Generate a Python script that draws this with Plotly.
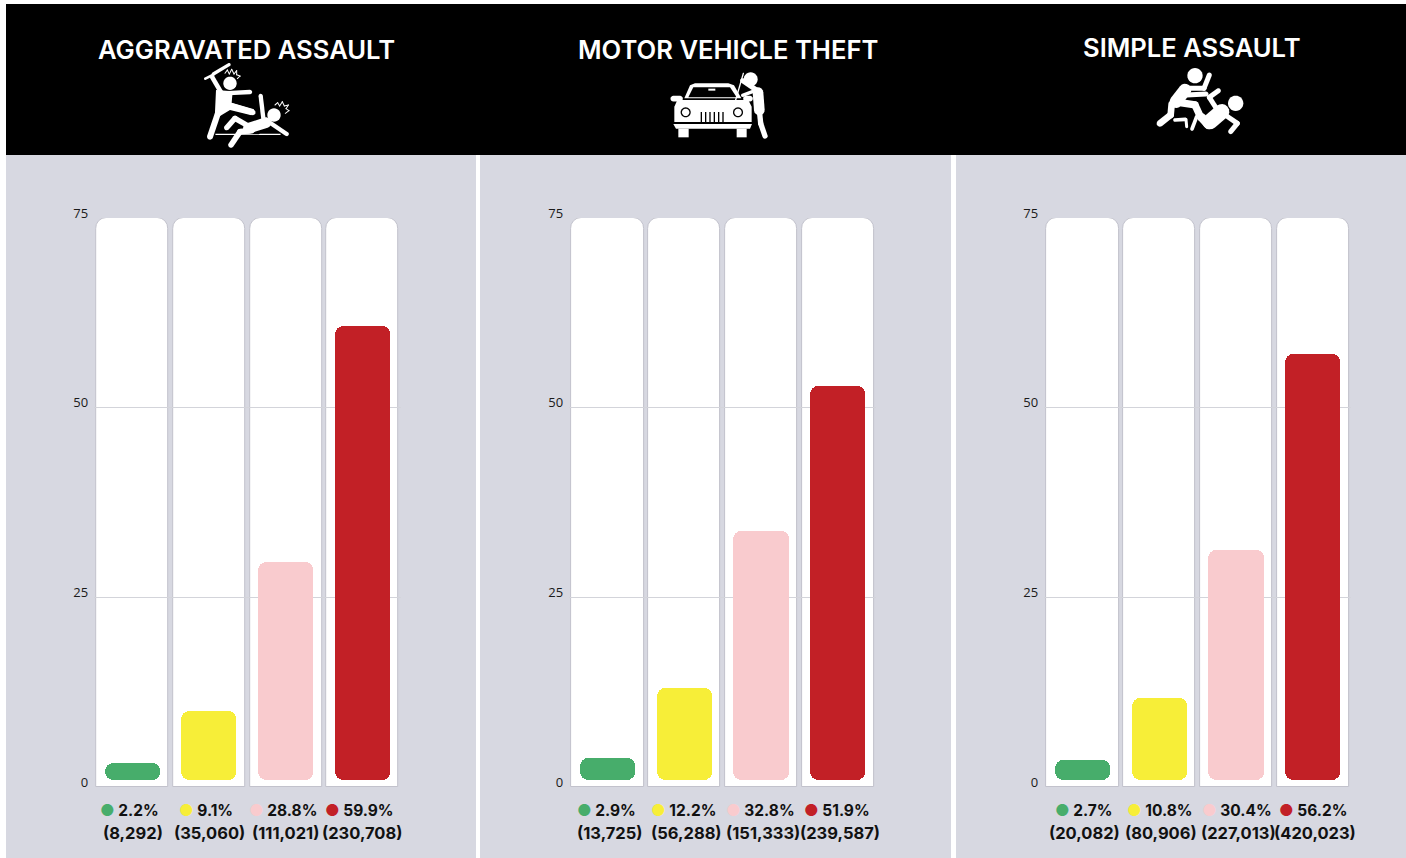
import math
import plotly.graph_objects as go

W, H = 1406, 858

# ---------- data ----------
titles = ["AGGRAVATED ASSAULT", "MOTOR VEHICLE THEFT", "SIMPLE ASSAULT"]
groups = ["Green", "Yellow", "Pink", "Red"]
colors = ["#47ad6b", "#f7ee38", "#f9cbce", "#c22026"]
pct_aggravated = [2.2, 9.1, 28.8, 59.9]
pct_motor = [2.9, 12.2, 32.8, 51.9]
pct_simple = [2.7, 10.8, 30.4, 56.2]
cnt_aggravated = [8292, 35060, 111021, 230708]
cnt_motor = [13725, 56288, 151333, 239587]
cnt_simple = [20082, 80906, 227013, 420023]
tick_vals = [0, 25, 50, 75]
axis_max = 75
bar_inset = 0.9

pcts = [pct_aggravated, pct_motor, pct_simple]
cnts = [cnt_aggravated, cnt_motor, cnt_simple]

# ---------- layout metrics (px) ----------
BLACK = "#000000"
PANEL = "#d7d8e1"
panels_px = [(6, 476), (480, 951), (956, 1406)]
domains_px = [(94.2, 400.6), (569.1, 876.3), (1044.1, 1351.3)]
title_px = [(246, 49), (728, 49), (1192, 48)]
pct_shift = [-3, -1, 1]
cnt_shift = [0, 2, 2]
y0_px, y75_px = 787, 218


def px(x):
    return x / W


def py(y):
    return 1 - y / H


def rect(x0, y0, x1, y1, color, layer="below"):
    return dict(type="rect", xref="paper", yref="paper", x0=px(x0), x1=px(x1),
                y0=py(y1), y1=py(y0), fillcolor=color, line=dict(width=0), layer=layer)


shapes = [rect(6, 4, W, 155, BLACK)]
for a, b in panels_px:
    shapes.append(rect(a, 155, b, H, PANEL))


# ---------- pictogram helpers (drawn on paper, decoration only) ----------
def poly_shape(points, color="#ffffff"):
    d = "M" + " L".join(f"{px(x):.5f},{py(y):.5f}" for x, y in points) + " Z"
    return dict(type="path", xref="paper", yref="paper", path=d, fillcolor=color,
                line=dict(width=0), layer="above")


class Icon:
    def __init__(self, ox, oy, s=3.0):
        self.ox, self.oy, self.s = ox, oy, s

    def p(self, x, y):
        return (self.ox + x / self.s, self.oy + y / self.s)

    def circle(self, x, y, r, color="#ffffff"):
        cx, cy = self.p(x, y)
        r = r / self.s
        pts = [(cx + r * math.cos(t * math.pi / 14), cy + r * math.sin(t * math.pi / 14)) for t in range(28)]
        shapes.append(poly_shape(pts, color))

    def limb(self, pts, w, color="#ffffff"):
        for (x1, y1), (x2, y2) in zip(pts, pts[1:]):
            a = self.p(x1, y1)
            b = self.p(x2, y2)
            ang = math.atan2(b[1] - a[1], b[0] - a[0])
            r = w / self.s / 2
            out = []
            for k in range(9):
                t = ang + math.pi / 2 + k * math.pi / 8
                out.append((a[0] + r * math.cos(t), a[1] + r * math.sin(t)))
            for k in range(9):
                t = ang - math.pi / 2 + k * math.pi / 8
                out.append((b[0] + r * math.cos(t), b[1] + r * math.sin(t)))
            shapes.append(poly_shape(out, color))

    def poly(self, pts, color="#ffffff"):
        shapes.append(poly_shape([self.p(x, y) for x, y in pts], color))


# aggravated assault icon
i1 = Icon(180, 60)
i1.circle(150, 70, 20)
i1.limb([(125, 100), (97, 52)], 14)
i1.limb([(76, 56), (100, 44)], 8)
i1.limb([(100, 42), (147, 14)], 10)
i1.limb([(130, 100), (210, 96)], 13)
i1.poly([(108, 90), (158, 94), (155, 128), (222, 148), (214, 166), (150, 150), (104, 178)])
i1.limb([(124, 130), (90, 230)], 18)
i1.limb([(155, 138), (218, 157)], 17)
i1.limb([(108, 223), (300, 223)], 4)
i1.limb([(170, 218), (235, 218)], 10, BLACK)
i1.circle(282, 165, 20)
i1.limb([(242, 108), (250, 175)], 13)
i1.limb([(258, 180), (320, 222)], 13)
i1.limb([(258, 188), (205, 205)], 32)
i1.limb([(205, 198), (165, 175), (140, 203)], 16)
i1.limb([(215, 212), (180, 215), (153, 255)], 17)
spark1 = [(135, 40), (142, 30), (148, 42), (155, 28), (162, 42), (170, 32), (170, 44), (180, 48), (172, 56)]
spark2 = [(285, 135), (293, 128), (299, 138), (307, 125), (313, 138), (325, 135), (318, 146), (327, 152), (316, 160)]
i1.limb(spark1, 3)
i1.limb(spark2, 3)

# motor vehicle theft icon
i2 = Icon(640, 60)
i2.poly([(133, 115), (150, 76), (165, 70), (265, 70), (282, 76), (304, 115)])
i2.poly([(145, 112), (160, 82), (270, 82), (290, 112)], BLACK)
i2.poly([(205, 86), (226, 86), (226, 92), (205, 92)])
i2.limb([(100, 116), (120, 116)], 17)
i2.limb([(318, 116), (330, 116)], 17)
i2.poly([(112, 120), (325, 120), (335, 140), (335, 186), (103, 186), (103, 140)])
i2.poly([(100, 192), (336, 192), (330, 206), (108, 206)])
i2.poly([(115, 206), (146, 206), (146, 232), (115, 232)])
i2.poly([(290, 206), (320, 206), (320, 232), (290, 232)])
i2.circle(137, 157, 15, BLACK)
i2.circle(137, 157, 11)
i2.circle(294, 157, 15, BLACK)
i2.circle(294, 157, 11)
for bx in [184, 197, 210, 223, 236, 249]:
    i2.poly([(bx - 2, 156), (bx + 2, 156), (bx + 2, 187), (bx - 2, 187)], BLACK)
i2.limb([(310, 40), (287, 120)], 4)
i2.circle(332, 58, 21)
i2.limb([(354, 98), (358, 150)], 32)
i2.limb([(308, 62), (352, 92)], 15)
i2.limb([(345, 92), (308, 106)], 10)
i2.limb([(358, 150), (362, 190), (375, 228)], 16)

# simple assault icon
i3 = Icon(1130, 60)
i3.circle(195, 47, 23)
i3.limb([(165, 90), (138, 125)], 38)
i3.limb([(170, 85), (222, 85), (238, 45)], 15)
i3.limb([(170, 105), (228, 102)], 15)
i3.limb([(125, 132), (122, 165), (90, 190)], 20)
i3.limb([(150, 128), (195, 135), (212, 172)], 22)
i3.limb([(135, 180), (165, 178)], 11)
i3.limb([(168, 178), (170, 200)], 9)
i3.limb([(200, 170), (186, 207)], 11)
i3.circle(317, 130, 23)
i3.limb([(275, 155), (240, 185)], 46)
i3.limb([(265, 92), (238, 112), (262, 150)], 15)
i3.limb([(290, 168), (322, 190), (302, 215)], 15)
i3.limb([(236, 195), (215, 172)], 26)


# ---------- figure ----------
fig = go.Figure()
layout_axes = {}
annotations = []
for i in range(3):
    xa, xb = f"x{2*i+1}", f"x{2*i+2}"
    ya, yb = f"y{2*i+1}", f"y{2*i+2}"
    dom_x = [px(domains_px[i][0]), px(domains_px[i][1])]
    dom_y = [py(y0_px), py(y75_px)]

    # white tracks
    fig.add_trace(go.Bar(x=groups, y=[axis_max] * 4, width=0.94, xaxis="x" if i == 0 else xa,
                         yaxis="y" if i == 0 else ya,
                         marker=dict(color="#ffffff", cornerradius=11, line=dict(color="#c2c2cc", width=1)),
                         hoverinfo="skip", showlegend=False))
    # coloured values
    fig.add_trace(go.Bar(x=groups, y=pcts[i], base=bar_inset, width=0.72, xaxis=xb, yaxis=yb,
                         marker=dict(color=colors, cornerradius=8, line=dict(width=0)),
                         showlegend=False))

    name_a_x = "xaxis" if i == 0 else f"xaxis{2*i+1}"
    name_a_y = "yaxis" if i == 0 else f"yaxis{2*i+1}"
    name_b_x = f"xaxis{2*i+2}"
    name_b_y = f"yaxis{2*i+2}"
    for nm_x, nm_y, partner_x, partner_y, front in [
        (name_a_x, name_a_y, "y" if i == 0 else ya, "x" if i == 0 else xa, False),
        (name_b_x, name_b_y, yb, xb, True),
    ]:
        layout_axes[nm_x] = dict(domain=dom_x, anchor=partner_x, type="category",
                                 categoryorder="array", categoryarray=groups, range=[-0.5, 3.5],
                                 visible=False, showgrid=False, zeroline=False)
        layout_axes[nm_y] = dict(domain=dom_y, anchor=partner_y, range=[0, axis_max],
                                 zeroline=False, showline=False, ticks="",
                                 showgrid=front, gridcolor="#d3d4da", gridwidth=1,
                                 tickvals=tick_vals if front else [],
                                 showticklabels=front,
                                 ticklabelstandoff=5, ticklabelshift=-5,
                                 tickfont=dict(family="Open Sans", size=13, color="#1a1a1a"))

    # group labels under each bar
    for g, c, p, n in zip(groups, colors, pcts[i], cnts[i]):
        annotations.append(dict(
            x=g, xref=xb, y=py(810), yref="paper", yanchor="middle", xanchor="center", showarrow=False,
            xshift=pct_shift[i],
            text=f"<span style='color:{c};font-size:16px'>●</span> {p:.1f}%",
            font=dict(family="Inter", size=15.5, weight=700, color="#111111")))
        annotations.append(dict(
            x=g, xref=xb, y=py(833), yref="paper", yanchor="middle", xanchor="center", showarrow=False,
            xshift=cnt_shift[i],
            text=f"({n:,})",
            font=dict(family="Inter", size=16.5, weight=700, color="#111111")))

    annotations.append(dict(
        x=px(title_px[i][0]), y=py(title_px[i][1]), xref="paper", yref="paper", showarrow=False,
        xanchor="center", yanchor="middle", text=titles[i],
        font=dict(family="Inter", size=25.6, weight=600, color="#ffffff")))

fig.update_layout(
    width=W, height=H, autosize=False,
    margin=dict(l=0, r=0, t=0, b=0, autoexpand=False),
    paper_bgcolor="#ffffff", plot_bgcolor="rgba(0,0,0,0)",
    shapes=shapes, annotations=annotations, bargap=0, showlegend=False,
    **layout_axes,
)

fig.write_html("out.html", config={"displayModeBar": False},
               post_script="document.body.style.margin='0';document.body.style.overflow='hidden';")
